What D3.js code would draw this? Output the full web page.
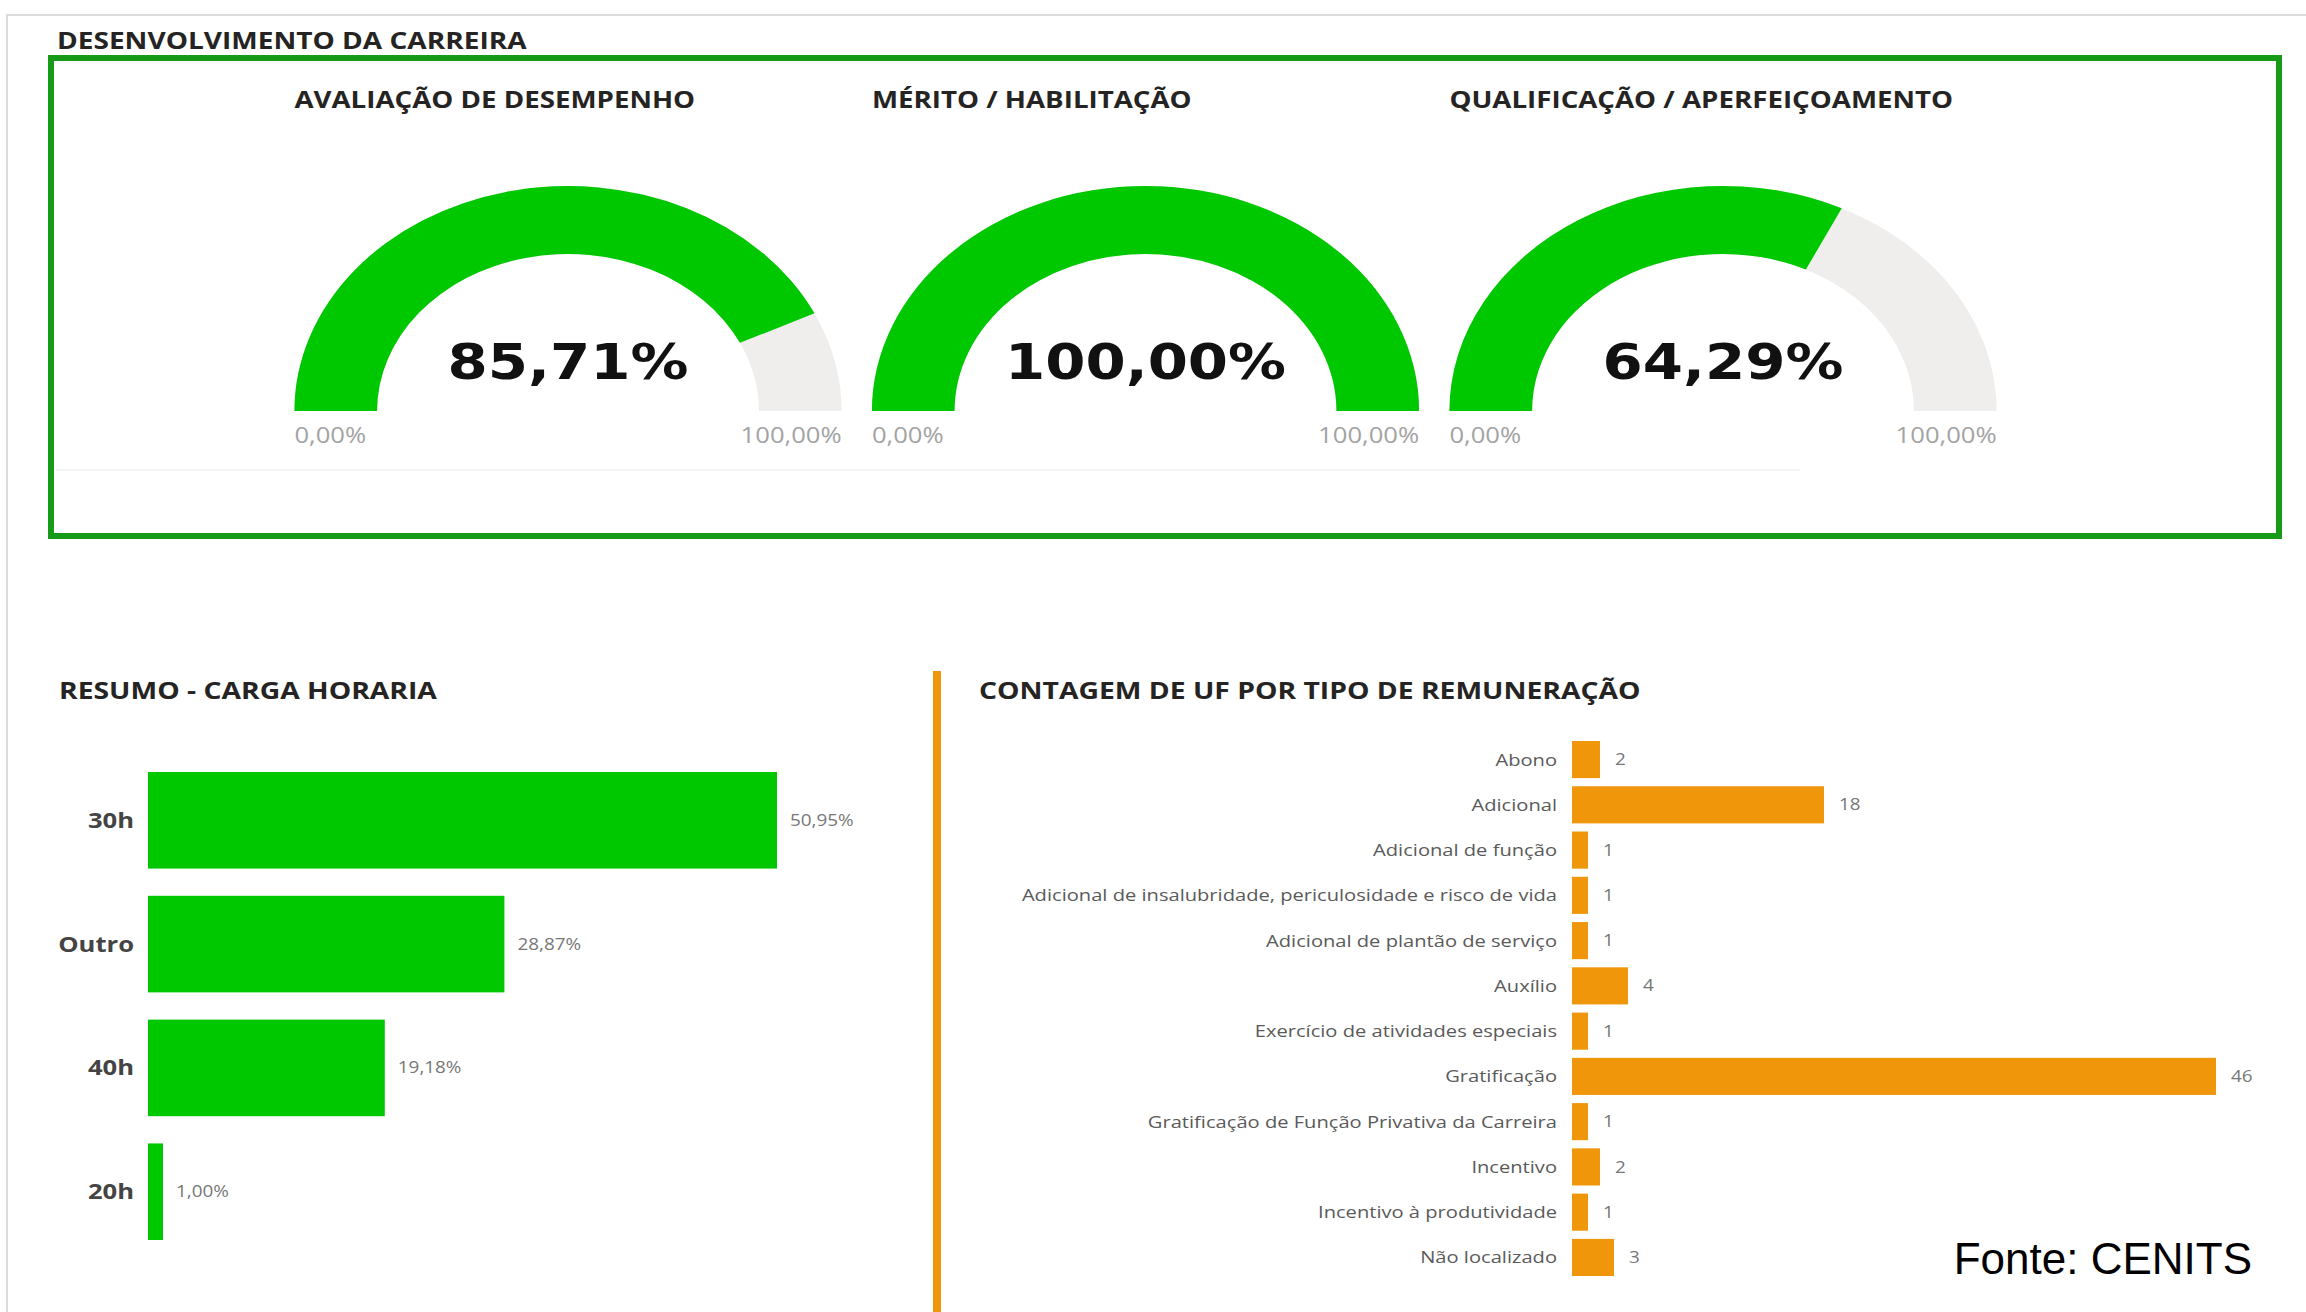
<!DOCTYPE html>
<html>
<head>
<meta charset="utf-8">
<script src="https://cdn.jsdelivr.net/npm/d3@7"></script>
<style>
  html, body { margin: 0; padding: 0; background: #fff; }
  svg { display: block; }
</style>
</head>
<body>
<div id="chart"></div>
<script>
// gauges
var gaugeTitles = ["AVALIAÇÃO DE DESEMPENHO", "MÉRITO / HABILITAÇÃO", "QUALIFICAÇÃO / APERFEIÇOAMENTO"];
var gaugeValues = [85.71, 100.00, 64.29];
var gaugeMin = 0, gaugeMax = 100;

// resumo - carga horaria
var cargaCats = ["30h", "Outro", "40h", "20h"];
var cargaValues = [50.95, 28.87, 19.18, 1.00];

// contagem de UF por tipo de remuneracao
var remCats = ["Abono", "Adicional", "Adicional de função",
  "Adicional de insalubridade, periculosidade e risco de vida",
  "Adicional de plantão de serviço", "Auxílio", "Exercício de atividades especiais",
  "Gratificação", "Gratificação de Função Privativa da Carreira", "Incentivo",
  "Incentivo à produtividade", "Não localizado"];
var remValues = [2, 18, 1, 1, 1, 4, 1, 46, 1, 2, 1, 3];

var W = 2306, H = 1312;
var SX = 1.22; // the screenshot is stretched sideways
var green = "#00c800", orange = "#f0960a";

var br = d3.formatLocale({decimal: ",", thousands: ".", grouping: [3], currency: ["R$", ""]});
var pct = function(v) { return br.format(".2f")(v) + "%"; };

var svg = d3.select("#chart").append("svg")
  .attr("width", W).attr("height", H)
  .style("font-family", "'Open Sans', sans-serif");

svg.append("rect").attr("width", W).attr("height", H).attr("fill", "#fff");

// light frame of the page
svg.append("path")
  .attr("d", "M7," + H + " V15 H" + W)
  .attr("fill", "none").attr("stroke", "#dcdcdc").attr("stroke-width", 2);

function stext(g, x, y, str, sx) {
  return g.append("text")
    .attr("transform", "translate(" + x + "," + y + ") scale(" + (sx || SX) + ",1)")
    .text(str);
}

// ---------- top: desenvolvimento da carreira ----------
stext(svg, 57, 49, "DESENVOLVIMENTO DA CARREIRA")
  .attr("font-size", 23).attr("font-weight", 700).attr("fill", "#252423");

svg.append("rect")
  .attr("x", 51).attr("y", 58).attr("width", 2228).attr("height", 478)
  .attr("fill", "none").attr("stroke", "#179a17").attr("stroke-width", 6);

svg.append("line")
  .attr("x1", 56).attr("x2", 1800).attr("y1", 470).attr("y2", 470)
  .attr("stroke", "#f3f3f3").attr("stroke-width", 2);

var rOuter = 225, rInner = 157, gaugeSY = 1.216, gaugeBase = 411;
var gx = d3.scalePoint().domain(d3.range(gaugeTitles.length)).range([568, 1723]);
var ang = d3.scaleLinear().domain([gaugeMin, gaugeMax]).range([-Math.PI / 2, Math.PI / 2]);
var arc = d3.arc().innerRadius(rInner).outerRadius(rOuter);

gaugeTitles.forEach(function(t, i) {
  var cx = gx(i);
  var left = cx - rOuter * gaugeSY, right = cx + rOuter * gaugeSY;

  stext(svg, left, 108, t)
    .attr("font-size", 22.7).attr("font-weight", 700).attr("fill", "#252423");

  var g = svg.append("g")
    .attr("transform", "translate(" + cx + "," + gaugeBase + ") scale(" + gaugeSY + ",1)");
  g.append("path")
    .attr("d", arc({startAngle: ang(gaugeMin), endAngle: ang(gaugeMax)}))
    .attr("fill", "#f0eeed");
  g.append("path")
    .attr("d", arc({startAngle: ang(gaugeMin), endAngle: ang(gaugeValues[i])}))
    .attr("fill", green);

  stext(svg, cx, 379, pct(gaugeValues[i]), 1.18)
    .attr("text-anchor", "middle")
    .attr("font-family", "'DejaVu Sans', sans-serif")
    .attr("font-size", 49).attr("font-weight", 700).attr("fill", "#111");

  stext(svg, left, 443, pct(gaugeMin))
    .attr("font-size", 21).attr("fill", "#a3a3a3");
  stext(svg, right, 443, pct(gaugeMax))
    .attr("text-anchor", "end")
    .attr("font-size", 21).attr("fill", "#a3a3a3");
});

// ---------- bottom left: resumo - carga horaria ----------
stext(svg, 59, 699, "RESUMO - CARGA HORARIA")
  .attr("font-size", 23.2).attr("font-weight", 700).attr("fill", "#252423");

var y1 = d3.scaleBand().domain(cargaCats).range([772, 1240]).paddingInner(0.22);
var x1 = d3.scaleLinear().domain([0, d3.max(cargaValues)]).range([148, 777]);

svg.append("g").selectAll("rect")
  .data(cargaCats)
  .join("rect")
    .attr("x", x1(0))
    .attr("y", function(d) { return y1(d); })
    .attr("width", function(d, i) { return Math.max(15, x1(cargaValues[i]) - x1(0)); })
    .attr("height", y1.bandwidth())
    .attr("fill", green);

cargaCats.forEach(function(c, i) {
  var yc = y1(c) + y1.bandwidth() / 2;
  stext(svg, 134, yc, c)
    .attr("text-anchor", "end").attr("dy", "0.36em")
    .attr("font-size", 21).attr("font-weight", 700).attr("fill", "#444");
  var xe = Math.max(x1(cargaValues[i]), x1(0) + 15);
  stext(svg, xe + 13, yc, pct(cargaValues[i]))
    .attr("dy", "0.36em")
    .attr("font-size", 15.5).attr("fill", "#777");
});

// ---------- bottom right: contagem de UF ----------
svg.append("line")
  .attr("x1", 937).attr("x2", 937).attr("y1", 671).attr("y2", H)
  .attr("stroke", orange).attr("stroke-width", 8);

stext(svg, 979, 699, "CONTAGEM DE UF POR TIPO DE REMUNERAÇÃO")
  .attr("font-size", 23.2).attr("font-weight", 700).attr("fill", "#252423");

var y2 = d3.scaleBand().domain(remCats).range([741, 1276]).paddingInner(0.18);
var x2 = d3.scaleLinear().domain([0, d3.max(remValues)]).range([1572, 2216]);

svg.append("g").selectAll("rect")
  .data(remCats)
  .join("rect")
    .attr("x", x2(0))
    .attr("y", function(d) { return y2(d); })
    .attr("width", function(d, i) { return Math.max(16, x2(remValues[i]) - x2(0)); })
    .attr("height", y2.bandwidth())
    .attr("fill", orange);

remCats.forEach(function(c, i) {
  var yc = y2(c) + y2.bandwidth() / 2;
  stext(svg, 1557, yc, c)
    .attr("text-anchor", "end").attr("dy", "0.36em")
    .attr("font-size", 16.5).attr("fill", "#5a5a5a");
  var xe = Math.max(x2(remValues[i]), x2(0) + 16);
  stext(svg, xe + 15, yc, String(remValues[i]))
    .attr("dy", "0.36em")
    .attr("font-size", 15.5).attr("fill", "#777");
});

svg.append("text")
  .attr("x", 2252).attr("y", 1274)
  .attr("text-anchor", "end")
  .attr("font-family", "'Liberation Sans', Arial, sans-serif")
  .attr("font-size", 44).attr("fill", "#000")
  .text("Fonte: CENITS");
</script>
</body>
</html>
